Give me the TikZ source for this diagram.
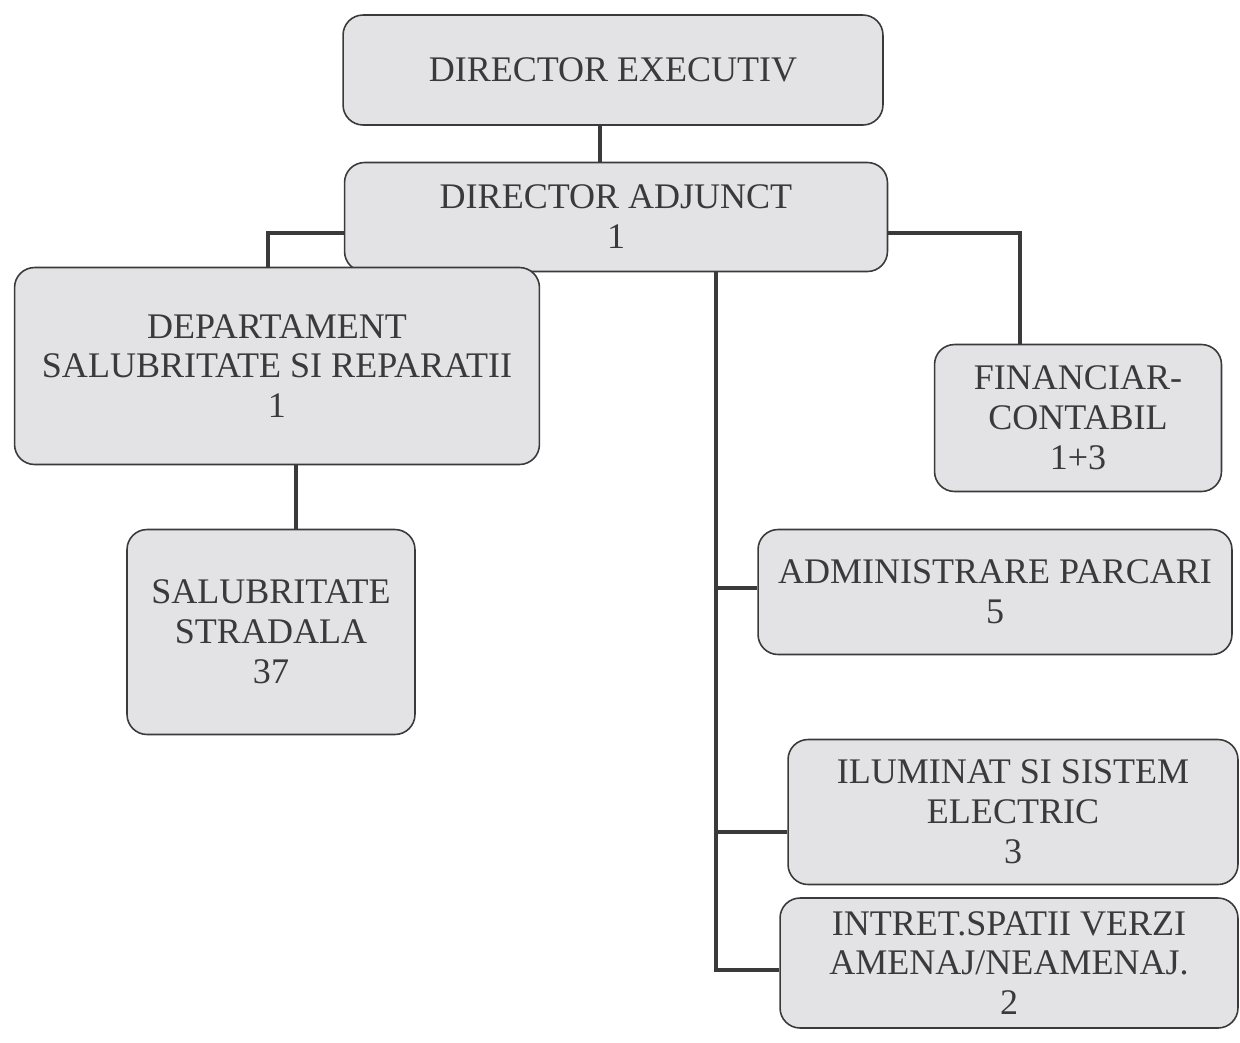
\documentclass[tikz,border=0pt]{standalone}
\usepackage{fontspec}
\setmainfont{Liberation Serif}
\usepackage{tikz}
\usetikzlibrary{positioning}
\definecolor{boxgray}{HTML}{E3E3E6}
\definecolor{inkgray}{HTML}{3A3A3A}
\tikzset{OrgBox/.style={rectangle,rounded corners=0.4cm,draw=inkgray,line width=0.9pt,fill=boxgray,align=center,inner sep=0pt,text=inkgray,font=\fontsize{20.5}{22.7}\selectfont}}
\tikzset{OrgLink/.style={draw=inkgray,line width=2pt}}

\begin{document}
\begin{tikzpicture}[x=0.02cm,y=-0.02cm]
\useasboundingbox (0,0) rectangle (1240,1042);
\node (exec) at (613,70) [OrgBox,minimum width=10.8cm,minimum height=2.2cm] {DIRECTOR EXECUTIV};
\node (adj) at (616,217) [OrgBox,minimum width=10.86cm,minimum height=2.18cm] {DIRECTOR ADJUNCT\\1};
\node (dept) at (277,366) [OrgBox,minimum width=10.5cm,minimum height=3.94cm] {DEPARTAMENT\\SALUBRITATE SI REPARATII\\1};
\node (strad) at (271,632) [OrgBox,minimum width=5.76cm,minimum height=4.1cm] {SALUBRITATE\\STRADALA\\37};
\node (fin) at (1078,418) [OrgBox,minimum width=5.74cm,minimum height=2.94cm] {FINANCIAR-\\CONTABIL\\1+3};
\node (park) at (995,592) [OrgBox,minimum width=9.48cm,minimum height=2.5cm] {ADMINISTRARE PARCARI\\5};
\node (ilum) at (1013,812) [OrgBox,minimum width=9cm,minimum height=2.9cm] {ILUMINAT SI SISTEM\\ELECTRIC\\3};
\node (verzi) at (1009,963) [OrgBox,minimum width=9.16cm,minimum height=2.6cm] {INTRET.SPATII VERZI\\AMENAJ/NEAMENAJ.\\2};
\coordinate (trunk) at (716,970);
\draw [OrgLink] ([xshift=-0.26cm]exec.south) -- ([xshift=-0.26cm]exec.south |- adj.north);
\draw [OrgLink] ([yshift=-0.32cm]adj.west) -| ([xshift=-0.18cm]dept.north);
\draw [OrgLink] ([yshift=-0.32cm]adj.east) -| ([xshift=-1.16cm]fin.north);
\draw [OrgLink] ([xshift=0.5cm]strad.north) -- ([xshift=0.5cm]strad.north |- dept.south);
\draw [OrgLink] (adj.south -| trunk) |- ([yshift=-0.14cm]verzi.west);
\draw [OrgLink] ([yshift=0.08cm]park.west) -- ([yshift=0.08cm]park.west -| trunk);
\draw [OrgLink] ([yshift=-0.4cm]ilum.west) -- ([yshift=-0.4cm]ilum.west -| trunk);
\end{tikzpicture}
\end{document}
